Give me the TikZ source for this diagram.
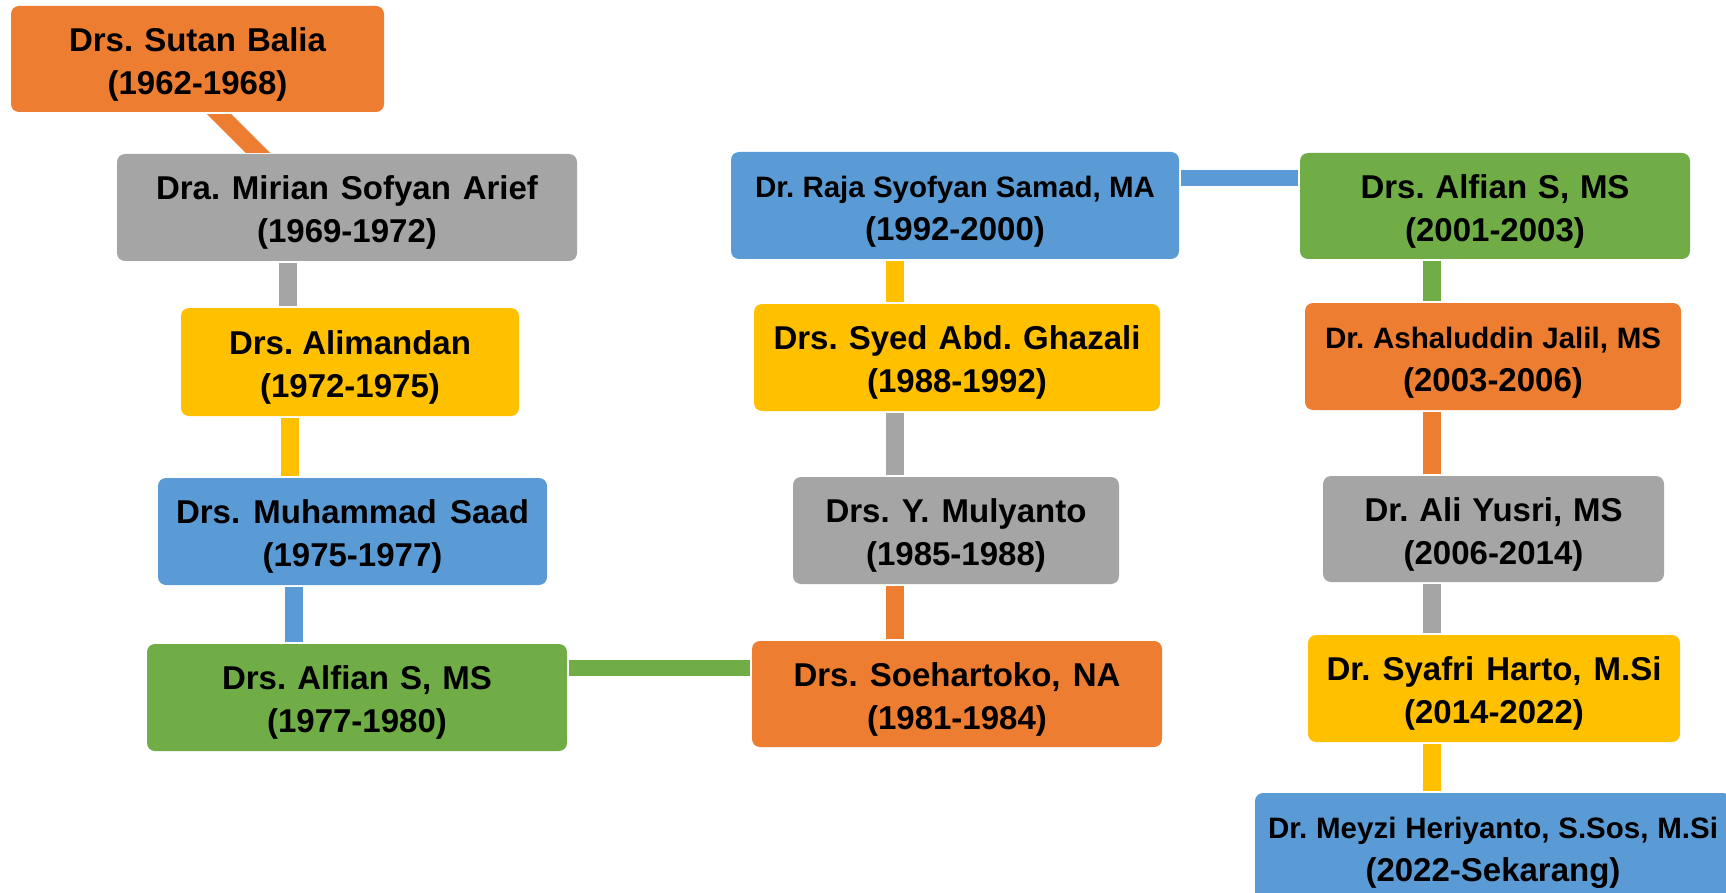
\documentclass[tikz,border=0pt]{standalone}
\usepackage{fontspec}
\setmainfont{Liberation Sans}
\usetikzlibrary{calc}
\frenchspacing

\definecolor{cOrange}{HTML}{ED7D31}
\definecolor{cGray}{HTML}{A5A5A5}
\definecolor{cYellow}{HTML}{FFC000}
\definecolor{cBlue}{HTML}{5B9BD5}
\definecolor{cGreen}{HTML}{70AD47}

% two-line label: name spread to a given width, then the years
\newcommand\who[3]{\rule{0pt}{34.5pt}\makebox[#1][s]{#2}\\(#3)\rule[-7pt]{0pt}{1pt}}
% same, with the name set a little smaller
\newcommand\whosm[3]{\rule{0pt}{34.5pt}\makebox[#1][s]{\fontsize{29.5}{43}\selectfont #2}\\(#3)\rule[-7pt]{0pt}{1pt}}

\tikzset{
  person/.style={rectangle, rounded corners=8pt, inner sep=0pt, align=center,
    text=black, font=\fontsize{33}{43}\selectfont\bfseries},
  link/.style={line width=18pt, shorten <=2pt, shorten >=2pt},
  hlink/.style={line width=16.5pt, shorten <=2pt, shorten >=2pt},
}

\begin{document}
\begin{tikzpicture}[x=1pt, y=-1pt]
\clip (0,0) rectangle (1726,893);
\fill[white] (0,0) rectangle (1726,893);

% first column
\node[person, fill=cOrange, minimum width=373pt, minimum height=106pt] (sutan) at (197.5,59)
  {\who{257pt}{Drs. Sutan Balia}{1962-1968}};
\node[person, fill=cGray, minimum width=460pt, minimum height=107pt] (mirian) at (347,207.5)
  {\who{382pt}{Dra. Mirian Sofyan Arief}{1969-1972}};
\node[person, fill=cYellow, minimum width=338pt, minimum height=108pt] (alim) at (350,362)
  {\who{242pt}{Drs. Alimandan}{1972-1975}};
\node[person, fill=cBlue, minimum width=389pt, minimum height=107pt] (saad) at (352.5,531.5)
  {\who{353pt}{Drs. Muhammad Saad}{1975-1977}};
\node[person, fill=cGreen, minimum width=420pt, minimum height=107pt] (alfA) at (357,697.5)
  {\who{270pt}{Drs. Alfian S, MS}{1977-1980}};

% second column
\node[person, fill=cOrange, minimum width=410pt, minimum height=106pt] (soeh) at (957,694)
  {\who{327pt}{Drs. Soehartoko, NA}{1981-1984}};
\node[person, fill=cGray, minimum width=326pt, minimum height=107pt] (muly) at (956,530.5)
  {\who{261pt}{Drs. Y. Mulyanto}{1985-1988}};
\node[person, fill=cYellow, minimum width=406pt, minimum height=107pt] (syed) at (957,357.5)
  {\who{367pt}{Drs. Syed Abd. Ghazali}{1988-1992}};
\node[person, fill=cBlue, minimum width=448pt, minimum height=107pt] (raja) at (955,205.5)
  {\whosm{400pt}{Dr. Raja Syofyan Samad, MA}{1992-2000}};

% third column
\node[person, fill=cGreen, minimum width=390pt, minimum height=106pt] (alfB) at (1495,206)
  {\who{269pt}{Drs. Alfian S, MS}{2001-2003}};
\node[person, fill=cOrange, minimum width=376pt, minimum height=107pt] (ashal) at (1493,356.5)
  {\whosm{336pt}{Dr. Ashaluddin Jalil, MS}{2003-2006}};
\node[person, fill=cGray, minimum width=341pt, minimum height=106pt] (ali) at (1493.5,529)
  {\who{258pt}{Dr. Ali Yusri, MS}{2006-2014}};
\node[person, fill=cYellow, minimum width=372pt, minimum height=107pt] (syafri) at (1494,688.5)
  {\who{335pt}{Dr. Syafri Harto, M.Si}{2014-2022}};
\node[person, fill=cBlue, minimum width=476pt, minimum height=107pt] (meyzi) at (1493,846.5)
  {\whosm{450pt}{Dr. Meyzi Heriyanto, S.Sos, M.Si}{2022-Sekarang}};

% reference lines for the connectors
\coordinate (xa) at (288,0);
\coordinate (xb) at (290,0);
\coordinate (xc) at (294,0);
\coordinate (xm) at (895,0);
\coordinate (xr) at (1432,0);
\coordinate (yg) at (0,668);
\coordinate (yb) at (0,178);
\coordinate (dA) at (212,107);
\coordinate (dB) at (265,160);

% slanted link, cut level with the two boxes
\begin{scope}
  \clip ([yshift=-2pt]sutan.south west) rectangle ([yshift=1pt]mirian.north east);
  \draw[line width=17pt, cOrange] (dA) -- (dB);
\end{scope}

\draw[link, cGray]   (mirian.south -| xa) -- (alim.north -| xa);
\draw[link, cYellow] (alim.south -| xb) -- (saad.north -| xb);
\draw[link, cBlue]   (saad.south -| xc) -- (alfA.north -| xc);
\draw[hlink, cGreen] (alfA.east |- yg) -- (soeh.west |- yg);
\draw[link, cOrange] (soeh.north -| xm) -- (muly.south -| xm);
\draw[link, cGray]   (muly.north -| xm) -- (syed.south -| xm);
\draw[link, cYellow] (syed.north -| xm) -- (raja.south -| xm);
\draw[hlink, cBlue]  (raja.east |- yb) -- (alfB.west |- yb);
\draw[link, cGreen]  (alfB.south -| xr) -- (ashal.north -| xr);
\draw[link, cOrange] (ashal.south -| xr) -- (ali.north -| xr);
\draw[link, cGray]   (ali.south -| xr) -- (syafri.north -| xr);
\draw[link, cYellow] (syafri.south -| xr) -- (meyzi.north -| xr);
\end{tikzpicture}
\end{document}
